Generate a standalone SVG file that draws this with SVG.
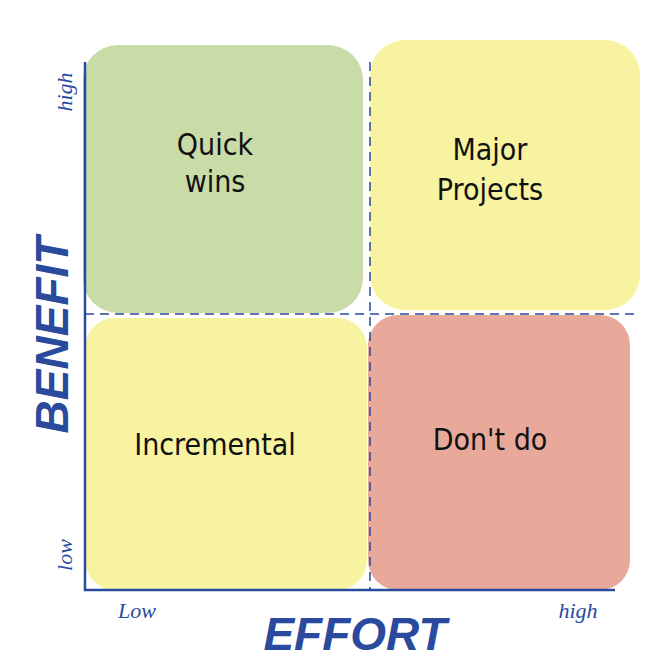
<svg xmlns="http://www.w3.org/2000/svg" width="661" height="672" viewBox="0 0 661 672">
<style>
.q{font-family:"DejaVu Sans Condensed","DejaVu Sans",sans-serif;font-size:30px;fill:#111;text-anchor:middle}
.ax{font-family:"Liberation Sans",sans-serif;font-weight:bold;font-style:italic;fill:#2a4a9e;text-anchor:middle}
.sm{font-family:"Liberation Serif",serif;font-style:italic;font-size:22px;fill:#2a4a9e;text-anchor:middle}
.ln{stroke:#2a4a9e;stroke-width:2.5;fill:none}
.ds{stroke:#2a4a9e;stroke-width:1.5;stroke-dasharray:9 6;fill:none}
</style>
<rect width="661" height="672" fill="#fff"/>
<g id="quick-wins"><rect x="83" y="45" width="280" height="268" rx="35" fill="#c9dca8"/><text class="q" x="215" y="155">Quick</text><text class="q" x="215" y="192">wins</text></g>
<g id="major-projects"><rect x="370" y="40" width="270" height="270" rx="35" fill="#f7f3a1"/><text class="q" x="490" y="160">Major</text><text class="q" x="490" y="200">Projects</text></g>
<g id="incremental"><rect x="85" y="318" width="282" height="272" rx="30" fill="#f7f3a1"/><text class="q" x="215" y="455">Incremental</text></g>
<g id="dont-do"><rect x="368" y="315" width="262" height="275" rx="30" fill="#e8a99b"/><text class="q" x="490" y="450">Don't do</text></g>
<g id="connectors">
<path class="ln" d="M85 62 V590 H615"/>
<path class="ds" d="M370 62 V590"/>
<path class="ds" d="M85 314 H640"/>
</g>
<g id="labels">
<text class="ax" font-size="46" transform="translate(68 335) rotate(-90)">BENEFIT</text>
<text class="ax" font-size="46" x="355" y="650">EFFORT</text>
<text class="sm" transform="translate(72 92) rotate(-90)">high</text>
<text class="sm" transform="translate(72 555) rotate(-90)">low</text>
<text class="sm" x="137" y="618">Low</text>
<text class="sm" x="578" y="618">high</text>
</g>
</svg>
